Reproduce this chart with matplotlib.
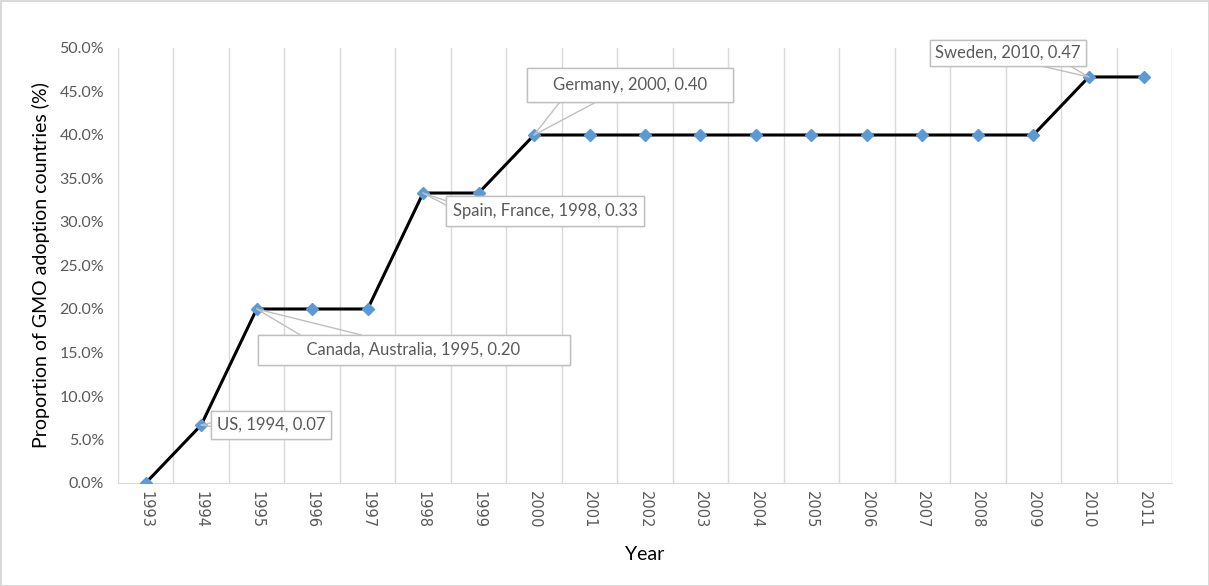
import numpy as np
import matplotlib.pyplot as plt
from matplotlib.ticker import PercentFormatter

plt.rcParams['font.family'] = ['Lato', 'DejaVu Sans']

years = [str(y) for y in range(1993, 2012)]
share = [0.0, 0.0667, 0.2, 0.2, 0.2, 0.3333, 0.3333, 0.4, 0.4, 0.4,
         0.4, 0.4, 0.4, 0.4, 0.4, 0.4, 0.4, 0.4667, 0.4667]

notes = ["US, 1994, 0.07", "Canada, Australia, 1995, 0.20",
         "Spain, France, 1998, 0.33", "Germany, 2000, 0.40",
         "Sweden, 2010, 0.47"]
note_years = ["1994", "1995", "1998", "2000", "2010"]

fig = plt.figure(figsize=(12.09, 5.86), dpi=100,
                 edgecolor="#d9d9d9", linewidth=2)
ax = fig.add_axes([118/1209, 103/586, 1054/1209, 435/586])

x = np.arange(len(years))
ax.plot(x, share, color="black", linewidth=2.2, zorder=3)
ax.plot(x, share, linestyle="none", marker="D", markersize=6,
        color="#5b9bd5", zorder=4)

ax.set_xlim(-0.5, len(years) - 0.5)
ax.set_ylim(0, 0.5)
ax.set_yticks(np.arange(0, 0.51, 0.05))
ax.yaxis.set_major_formatter(PercentFormatter(1.0, decimals=1))
ax.set_xticks(x)
ax.set_xticklabels(years, rotation=270, family="DejaVu Sans", fontsize=10.5)
ax.set_xticks(x - 0.5, minor=True)
ax.grid(True, axis="x", which="minor", color="#d9d9d9", linewidth=1)
ax.set_axisbelow(True)
ax.axvline(len(years) - 0.5, color="#d9d9d9", linewidth=1)

for s in ["top", "right", "left"]:
    ax.spines[s].set_visible(False)
ax.spines["bottom"].set_color("#d9d9d9")
ax.tick_params(axis="both", which="both", length=0, colors="#595959")
ax.tick_params(axis="y", labelsize=11.5, pad=10)
ax.tick_params(axis="x", pad=6)

ax.set_xlabel("Year", fontsize=14, labelpad=12)
ax.set_ylabel("Proportion of GMO adoption countries (%)", fontsize=14,
              labelpad=7)

# callout box offsets (pixels), side padding and where the wedge meets the box
offsets = [(70, 0), (157, -41), (122, -18), (96, 50), (-81, 24)]
spaces = [0, 10, 0, 4, 0]
wedges = [[(0, 0.35), (0, 0.7)], [(0.16, 1), (0.42, 1)],
          [(0, 1), (0, 0.65)], [(0.165, 0), (0.41, 0)],
          [(0.58, 0), (0.87, 0)]]
pads = [0.35, 0.4, 0.4, 0.55, 0.3]
for txt, yr, off, sp, wg, pd in zip(notes, note_years, offsets, spaces,
                                    wedges, pads):
    i = years.index(yr)
    label = " " * sp + txt + " " * sp
    box = dict(boxstyle="square,pad=%s" % pd, fc="white", ec="#bfbfbf", lw=1)
    for rp in wg:
        ax.annotate(label, xy=(i, share[i]), xytext=off,
                    textcoords="offset pixels", ha="center", va="center",
                    fontsize=12, color="#595959", zorder=5, bbox=box,
                    arrowprops=dict(arrowstyle="-", color="#bfbfbf", lw=1,
                                    relpos=rp, shrinkA=0, shrinkB=0))

fig.savefig("out.png", dpi=100)
